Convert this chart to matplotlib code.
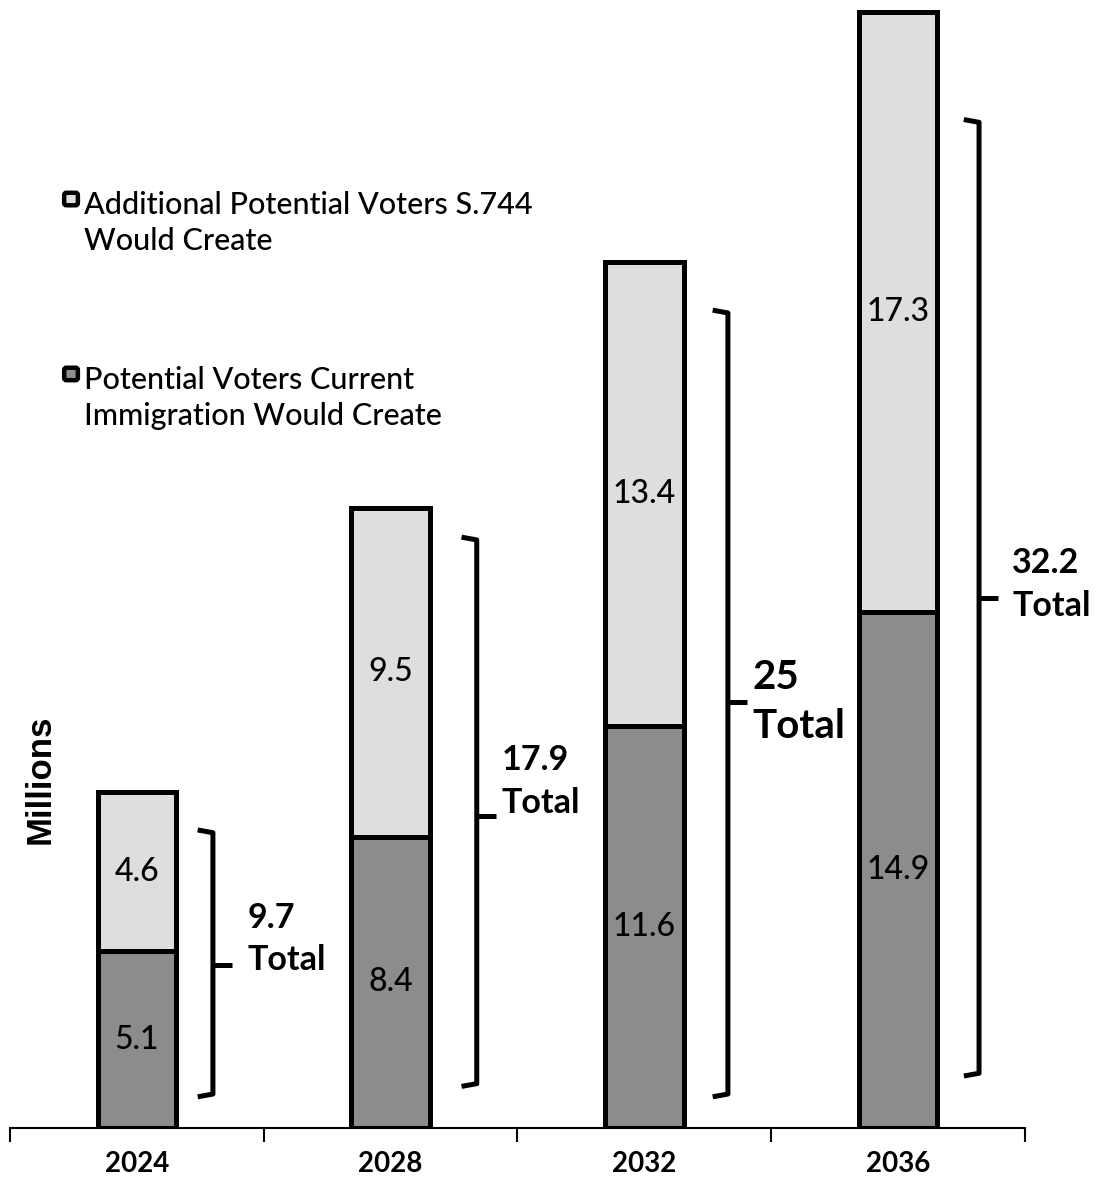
import matplotlib.pyplot as plt
from matplotlib.patches import FancyBboxPatch

# data (millions of potential voters)
years = ["2024", "2028", "2032", "2036"]
current_imm = [5.1, 8.4, 11.6, 14.9]
additional = [4.6, 9.5, 13.4, 17.3]
totals = [9.7, 17.9, 25, 32.2]

# bracket extents (data units)
bracket_lo = [0.9, 1.2, 0.9, 1.5]
bracket_hi = [8.6, 17.05, 23.6, 29.1]
bracket_mid = [4.7, 9.0, 12.3, 15.3]
bracket_dx = [0.30, 0.34, 0.33, 0.32]
# where the "x Total" text sits relative to the bracket
text_dx = [0.135, 0.098, 0.098, 0.13]
text_dy = [0.75, 1.0, 0.0, 0.38]

C_DARK = "#8c8c8c"
C_LIGHT = "#dedede"
FONT = "Lato"

fig = plt.figure(figsize=(10.97, 11.90), dpi=100)
ax = fig.add_axes([0.0091, 0.0521, 0.925, 0.9479])

x = list(range(len(years)))
w = 0.31
ax.bar(x, current_imm, width=w, color=C_DARK, edgecolor="black", linewidth=3.6, zorder=3)
ax.bar(x, additional, width=w, bottom=current_imm, color=C_LIGHT, edgecolor="black",
       linewidth=3.6, zorder=3)

for i in x:
    ax.text(i, current_imm[i] / 2, f"{current_imm[i]}", ha="center", va="center",
            fontsize=23, family=FONT, fontweight=500, zorder=4)
    ax.text(i, current_imm[i] + additional[i] / 2, f"{additional[i]}", ha="center",
            va="center", fontsize=23, family=FONT, fontweight=500, zorder=4)

    # bracket
    bx = i + bracket_dx[i]
    ax.plot([bx - 0.06, bx, bx, bx - 0.06], [bracket_hi[i], bracket_hi[i] - 0.08,
            bracket_lo[i] + 0.08, bracket_lo[i]], color="black", lw=3.6,
            solid_joinstyle="round", solid_capstyle="butt", zorder=3)
    ax.plot([bx, bx + 0.075], [bracket_mid[i], bracket_mid[i]], color="black", lw=3.6,
            solid_capstyle="butt", zorder=3)
    fs = 29 if i == 2 else 24.5
    ax.text(bx + text_dx[i], bracket_mid[i] + text_dy[i], f"{totals[i]:g}\nTotal", ha="left",
            va="center", fontsize=fs, family=FONT, fontweight="bold", linespacing=1.4)

ax.set_xlim(-0.5, 3.5)
ax.set_ylim(0, 32.55)
ax.set_xticks([-0.5, 0.5, 1.5, 2.5, 3.5])
ax.set_xticklabels([])
ax.tick_params(axis="x", direction="out", length=10, width=1.5, color="black")
ax.set_yticks([])
for s in ["top", "right", "left"]:
    ax.spines[s].set_visible(False)
ax.spines["bottom"].set_linewidth(1.5)

for i, yr in enumerate(years):
    ax.text(i, -1.05, yr, ha="center", va="center", fontsize=20, family=FONT,
            fontweight="bold")

fig.text(0.037, 0.345, "Millions", rotation=90, ha="center", va="center", fontsize=25,
         family="Liberation Sans", fontweight="bold")

# legend drawn by hand so the square sits on the first line
legend_items = [("Additional Potential Voters S.744\nWould Create", C_LIGHT, 0.831),
                ("Potential Voters Current\nImmigration Would Create", C_DARK, 0.684)]
for label, col, yy in legend_items:
    fig.patches.append(FancyBboxPatch((0.0585, yy - 0.0035), 0.0125, 0.0105,
                                      boxstyle="round,pad=0,rounding_size=0.002",
                                      transform=fig.transFigure, facecolor=col,
                                      edgecolor="black", linewidth=3.2))
    fig.text(0.077, yy + 0.0085, label, ha="left", va="top", fontsize=22, family=FONT,
             fontweight=500, linespacing=1.35)

fig.savefig("out.png", dpi=100)
